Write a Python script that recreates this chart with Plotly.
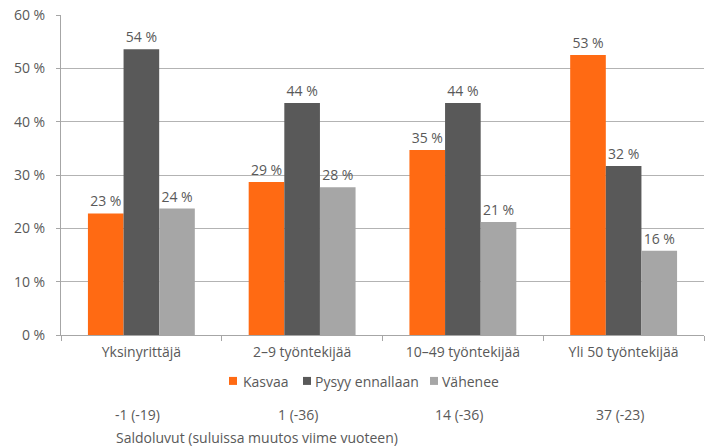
import plotly.graph_objects as go

categories = ["Yksinyrittäjä", "2–9 työntekijää", "10–49 työntekijää", "Yli 50 työntekijää"]
series_names = ["Kasvaa", "Pysyy ennallaan", "Vähenee"]
kasvaa = [22.8, 28.7, 34.7, 52.5]
pysyy = [53.6, 43.5, 43.5, 31.7]
vahenee = [23.7, 27.7, 21.2, 15.8]
kasvaa_labels = ["23 %", "29 %", "35 %", "53 %"]
pysyy_labels = ["54 %", "44 %", "44 %", "32 %"]
vahenee_labels = ["24 %", "28 %", "21 %", "16 %"]
saldo = ["-1 (-19)", "1 (-36)", "14 (-36)", "37 (-23)"]
saldo_title = "Saldoluvut (suluissa muutos viime vuoteen)"
y_ticks = [0, 10, 20, 30, 40, 50, 60]
y_ticktext = [f"{v} %" for v in y_ticks]

colors = ["#FF6A13", "#595959", "#A6A6A6"]
FONT = "'Open Sans', sans-serif"
TXT = "#595959"
FS = 14

fig = go.Figure()
for name, vals, labels, color in zip(series_names, [kasvaa, pysyy, vahenee],
                                     [kasvaa_labels, pysyy_labels, vahenee_labels], colors):
    fig.add_trace(go.Bar(
        x=categories, y=vals, name=name, showlegend=False,
        marker=dict(color=color, line=dict(width=0)),
        text=labels, textposition="outside", cliponaxis=False,
        textfont=dict(family=FONT, size=FS, color=TXT),
    ))

# saldo row under each category
for s, c in zip(saldo, categories):
    fig.add_annotation(text=s, x=c, y=-0.247, xref="x", yref="paper", xshift=-4,
                       showarrow=False, xanchor="center", yanchor="middle",
                       font=dict(family=FONT, size=FS, color=TXT))
fig.add_annotation(text=saldo_title, x=0.0824, y=-0.319, xref="paper", yref="paper",
                   showarrow=False, xanchor="left", yanchor="middle",
                   font=dict(family=FONT, size=FS, color=TXT))

# legend (drawn manually for compact Excel-like spacing)
leg_sq_x = [229, 303, 430]
leg_txt_x = [241, 313, 440]
def px(x):
    return (x - 61) / 643.0
for name, color, sx, tx in zip(series_names, colors, leg_sq_x, leg_txt_x):
    fig.add_shape(type="rect", xref="paper", yref="paper",
                  x0=px(sx), x1=px(sx + 8), y0=-0.156, y1=-0.131,
                  fillcolor=color, line=dict(width=0))
    fig.add_annotation(text=name, x=px(tx), y=-0.144, xref="paper", yref="paper",
                       showarrow=False, xanchor="left", yanchor="middle",
                       font=dict(family=FONT, size=FS, color=TXT))

fig.update_layout(
    width=705, height=448,
    margin=dict(l=61, r=1, t=15, b=113),
    paper_bgcolor="white", plot_bgcolor="white",
    barmode="group", bargap=0.335, bargroupgap=0,
    font=dict(family=FONT, size=FS, color=TXT),
    showlegend=False,
)
fig.update_xaxes(showline=True, linecolor="#A6A6A6", linewidth=1,
                 ticks="outside", tickson="boundaries", ticklen=5, tickcolor="#A6A6A6",
                 ticklabelstandoff=4,
                 tickfont=dict(family=FONT, size=FS, color=TXT), showgrid=False)
fig.update_yaxes(range=[0, 60], tickvals=y_ticks, ticktext=y_ticktext,
                 showgrid=True, gridcolor="#B3B3B3", gridwidth=1,
                 showline=True, linecolor="#A6A6A6", linewidth=1,
                 ticks="outside", ticklen=4, tickcolor="#A6A6A6", ticklabelstandoff=8,
                 tickfont=dict(family=FONT, size=FS, color=TXT), zeroline=False)

fig.write_html("out.html", config={"displayModeBar": False},
               post_script="document.body.style.margin='0';")
